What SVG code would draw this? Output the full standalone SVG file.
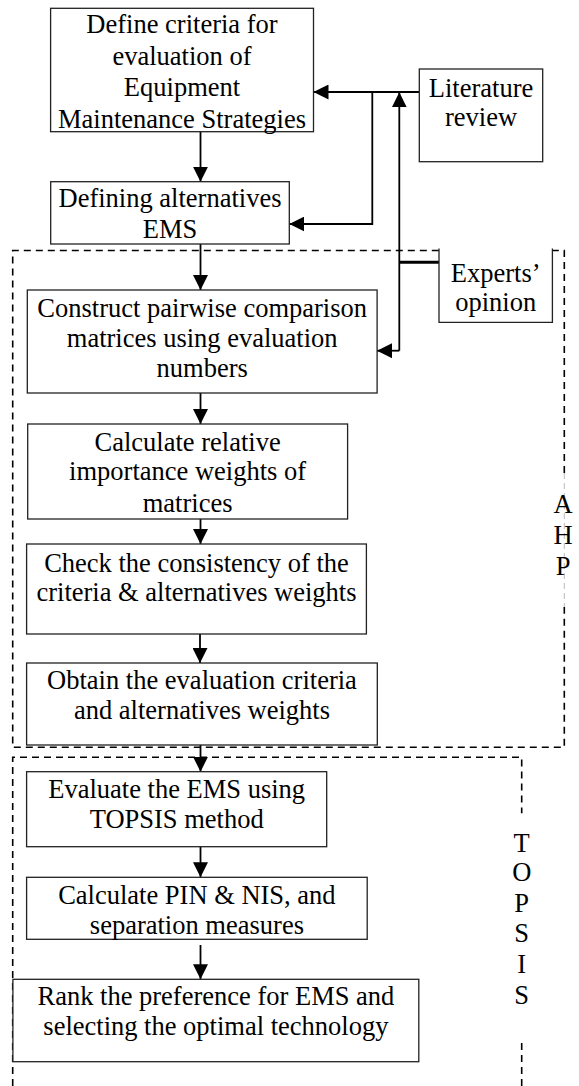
<svg xmlns="http://www.w3.org/2000/svg" width="579" height="1086" viewBox="0 0 579 1086">
<style>
.box{fill:#fff;stroke:#222;stroke-width:1.3}
.t{font-family:"Liberation Serif","Times New Roman",serif;font-size:26.5px;fill:#000;text-anchor:middle}
.c{fill:none;stroke:#000;stroke-width:1.8}
.d{fill:none;stroke:#000;stroke-width:1.6;stroke-dasharray:7 5}
.g{fill:none;stroke:#bbb;stroke-width:1;stroke-dasharray:6 4}
</style>
<defs>
<marker id="ah" markerUnits="userSpaceOnUse" markerWidth="15" markerHeight="15" refX="15" refY="7.5" orient="auto">
<path d="M0,0 L15,7.5 L0,15 z" fill="#000"/>
</marker>
</defs>
<rect width="579" height="1086" fill="#fff"/>

<g id="ahp-frame">
<path class="d" d="M564.3,473 V250.5 H12.7 V747.3 H564.3 V607"/>
<path class="g" d="M564.3,473 V607"/>
<text class="t" x="563" y="513">A</text>
<text class="t" x="563" y="544">H</text>
<text class="t" x="563" y="575">P</text>
</g>

<g id="topsis-frame">
<path class="d" d="M12.7,1086 V757.3 H521.7 V813.3"/>
<path class="d" d="M521.7,1043 V1086"/>
<text class="t" x="521.7" y="851.7">T</text>
<text class="t" x="521.7" y="880.7">O</text>
<text class="t" x="521.7" y="911.7">P</text>
<text class="t" x="521.7" y="941.7">S</text>
<text class="t" x="521.7" y="972.7">I</text>
<text class="t" x="521.7" y="1004">S</text>
</g>

<g id="connectors">
<path class="c" d="M419.3,92 H313.5" marker-end="url(#ah)"/>
<path class="c" d="M372.3,92 V224 H289.3" marker-end="url(#ah)"/>
<path class="c" d="M399.3,350.7 V92.3" marker-end="url(#ah)"/>
<path class="c" d="M399.3,350.7 H377" marker-end="url(#ah)"/>
<path fill="none" stroke="#000" stroke-width="3" d="M399.3,262.3 H439"/>
<path class="c" d="M200.5,131.7 V181.7" marker-end="url(#ah)"/>
<path class="c" d="M200.5,244 V290" marker-end="url(#ah)"/>
<path class="c" d="M200.5,393 V424" marker-end="url(#ah)"/>
<path class="c" d="M200.5,519 V544" marker-end="url(#ah)"/>
<path class="c" d="M200,634 V663" marker-end="url(#ah)"/>
<path class="c" d="M200.5,745 V771.7" marker-end="url(#ah)"/>
<path class="c" d="M200.5,846.7 V877.3" marker-end="url(#ah)"/>
<path class="c" d="M200.5,945 V979.3" marker-end="url(#ah)"/>
</g>

<g id="define-criteria">
<rect class="box" x="50.6" y="8.3" width="262.9" height="123.4"/>
<text class="t" x="182" y="33">Define criteria for</text>
<text class="t" x="182" y="64.5">evaluation of</text>
<text class="t" x="182" y="96">Equipment</text>
<text class="t" x="182" y="127.5">Maintenance Strategies</text>
</g>

<g id="literature-review">
<rect class="box" x="419.3" y="69" width="123.4" height="92.7"/>
<text class="t" x="481" y="97">Literature</text>
<text class="t" x="481" y="126">review</text>
</g>

<g id="defining-alternatives">
<rect class="box" x="50.7" y="181.7" width="238.6" height="62.3"/>
<text class="t" x="170" y="206.7">Defining alternatives</text>
<text class="t" x="170" y="238">EMS</text>
</g>

<g id="experts-opinion">
<path class="box" d="M439,248.5 V322.3 H552.4 V248.5"/>
<text class="t" x="495.7" y="281.7">Experts’</text>
<text class="t" x="495.7" y="311.3">opinion</text>
</g>

<g id="construct-matrices">
<rect class="box" x="27.3" y="290" width="349.8" height="103"/>
<text class="t" x="202.2" y="317.3">Construct pairwise comparison</text>
<text class="t" x="202.2" y="346.5">matrices using evaluation</text>
<text class="t" x="202.2" y="376.7">numbers</text>
</g>

<g id="calculate-weights">
<rect class="box" x="27.7" y="424" width="319.9" height="95"/>
<text class="t" x="187.6" y="450.7">Calculate relative</text>
<text class="t" x="187.6" y="480">importance weights of</text>
<text class="t" x="187.6" y="511.7">matrices</text>
</g>

<g id="check-consistency">
<rect class="box" x="26.6" y="544" width="339.8" height="90"/>
<text class="t" x="196.5" y="571.7">Check the consistency of the</text>
<text class="t" x="196.5" y="601">criteria &amp; alternatives weights</text>
</g>

<g id="obtain-weights">
<rect class="box" x="26.6" y="663" width="350.7" height="82"/>
<text class="t" x="202" y="689.3">Obtain the evaluation criteria</text>
<text class="t" x="202" y="719.3">and alternatives weights</text>
</g>

<g id="evaluate-topsis">
<rect class="box" x="26.6" y="771.7" width="300.1" height="75"/>
<text class="t" x="176.7" y="798.3">Evaluate the EMS using</text>
<text class="t" x="176.7" y="828.3">TOPSIS method</text>
</g>

<g id="calculate-pin-nis">
<rect class="box" x="26.6" y="877.3" width="340.6" height="62"/>
<text class="t" x="196.9" y="904">Calculate PIN &amp; NIS, and</text>
<text class="t" x="196.9" y="934">separation measures</text>
</g>

<g id="rank-preference">
<rect class="box" x="12.9" y="979.3" width="405.9" height="82.4"/>
<text class="t" x="215.9" y="1005">Rank the preference for EMS and</text>
<text class="t" x="215.9" y="1035">selecting the optimal technology</text>
</g>
</svg>
